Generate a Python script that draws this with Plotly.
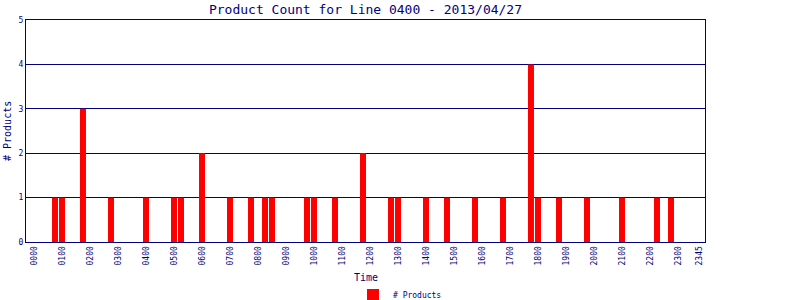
import plotly.graph_objects as go

# 15-minute slots for the day
slots = [f"{h:02d}{m:02d}" for h in range(24) for m in (0, 15, 30, 45)]

# observed counts (time slot -> products)
times = ["0045", "0100", "0145", "0245", "0400", "0500", "0515", "0600", "0700",
         "0745", "0815", "0830", "0945", "1000", "1045", "1145", "1245", "1300",
         "1400", "1445", "1545", "1645", "1745", "1800", "1845", "1945", "2100",
         "2215", "2245"]
counts = [1, 1, 3, 1, 1, 1, 1, 2, 1,
          1, 1, 1, 1, 1, 1, 2, 1, 1,
          1, 1, 1, 1, 4, 1, 1, 1, 1,
          1, 1]

tick_labels = [f"{h:02d}00" for h in range(24)] + ["2345"]

navy = "#000080"
font = "DejaVu Sans Mono"

fig = go.Figure()
fig.add_trace(go.Bar(
    x=times, y=counts, name="# Products",
    marker=dict(color="#ff0000", line=dict(width=0)),
))

fig.update_layout(
    width=800, height=300,
    margin=dict(l=26, r=95, t=20, b=58, autoexpand=False),
    paper_bgcolor="white", plot_bgcolor="white",
    bargap=1/7,
    font=dict(family=font, color=navy, size=8),
    title=dict(text="Product Count for Line 0400 - 2013/04/27",
               x=365.5/800, xanchor="center", y=1 - 9/300, yanchor="middle",
               font=dict(family=font, size=13, color=navy)),
    showlegend=True,
    legend=dict(orientation="h", x=0.5, xanchor="center", xref="container",
                y=-53/222, yanchor="middle", yref="paper",
                font=dict(family=font, size=8, color=navy)),
    xaxis=dict(
        type="category", categoryorder="array", categoryarray=slots,
        range=[-1.14, 95.86], automargin=False,
        tickmode="array", tickvals=tick_labels, ticktext=tick_labels,
        tickangle=-90, ticks="", tickfont=dict(family=font, size=8, color=navy),
        showgrid=False, showline=True, linecolor=navy, linewidth=1, mirror=True,
        zeroline=False,
    ),
    yaxis=dict(
        range=[0, 5], tickvals=[0, 1, 2, 3, 4, 5], ticks="", automargin=False,
        tickfont=dict(family=font, size=8, color=navy),
        showgrid=True, gridcolor=navy, gridwidth=1,
        showline=True, linecolor=navy, linewidth=1, mirror=True,
        zeroline=False,
    ),
    annotations=[
        dict(text="Time", xref="paper", yref="paper", x=0.5, y=-35/222,
             xanchor="center", yanchor="middle", showarrow=False,
             font=dict(family=font, size=10, color=navy)),
        dict(text="# Products", xref="paper", yref="paper", x=-19/679, y=0.5,
             xanchor="center", yanchor="middle", textangle=-90, showarrow=False,
             font=dict(family=font, size=10, color=navy)),
    ],
)

fig.write_html("out.html")
